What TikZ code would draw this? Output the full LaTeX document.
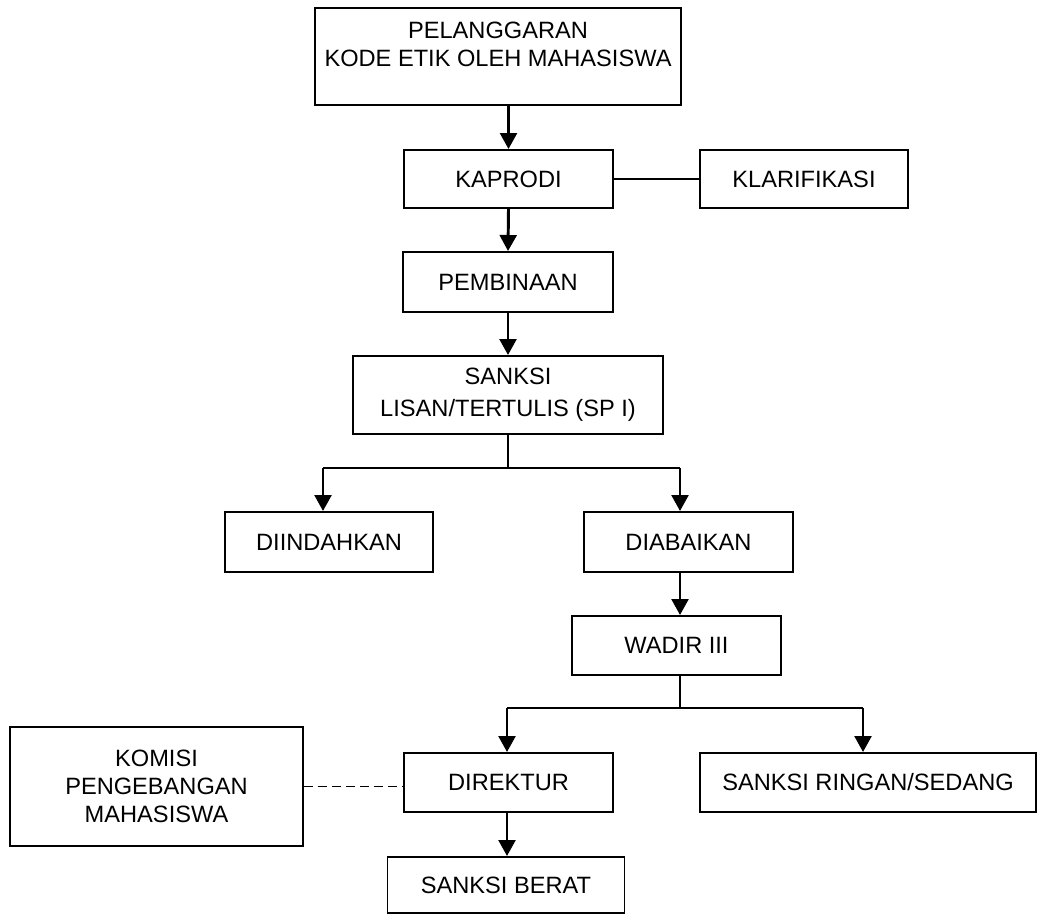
\documentclass[tikz,border=0pt]{standalone}
\usepackage{fontspec}
\setmainfont{Liberation Sans}
\usepackage{tikz}
\usetikzlibrary{calc}
\usetikzlibrary{arrows.meta}
\tikzset{
  box/.style={draw, line width=1.4pt, align=center, inner sep=0pt,
    font=\fontsize{16.8}{20}\selectfont},
  link/.style={line width=1.2pt},
  arrow/.style={line width=2.1pt, -{Triangle[width=0.42cm,length=0.4cm]}},
  dashlink/.style={line width=1.3pt, dash pattern=on 0.22cm off 0.13cm}
}
\newcommand{\flowbox}[6]{\node[box, minimum width=#4*0.025cm, minimum height=#5*0.025cm] (#1) at ( #2 , #3 ) {#6};}

\begin{document}
\begin{tikzpicture}[x=0.025cm, y=-0.025cm]
\useasboundingbox (0,0) rectangle (1038,915);
% top of the flow
\node[box, minimum width=366*0.025cm, minimum height=97*0.025cm, text depth=0.6cm] (pel) at (498,56.5) {PELANGGARAN\\KODE ETIK OLEH MAHASISWA};
\flowbox{kap}{508.5}{179}{209}{58}{KAPRODI}
\flowbox{kla}{804}{179}{208}{58}{KLARIFIKASI}
\flowbox{pem}{508}{282}{210}{60}{PEMBINAAN}
\flowbox{san}{508}{395}{310}{78}{SANKSI\\[2.8pt]LISAN/TERTULIS (SP I)}
% first branch
\flowbox{dii}{329}{542}{208}{60}{DIINDAHKAN}
\flowbox{dia}{688.5}{542}{209}{60}{DIABAIKAN}
\flowbox{wad}{676.5}{645.5}{209}{59}{WADIR III}
% second branch
\flowbox{kom}{156.5}{786.5}{293}{119}{KOMISI\\PENGEBANGAN\\MAHASISWA}
\flowbox{dir}{508.5}{782.5}{209}{59}{DIREKTUR}
\flowbox{rin}{868}{782.5}{336}{59}{SANKSI RINGAN/SEDANG}
\flowbox{ber}{506}{885}{237}{56}{SANKSI BERAT}
% split points
\coordinate (s0) at (508,468);
\coordinate (s1) at (323,468);
\coordinate (s2) at (680,468);
\coordinate (w0) at (680,708);
\coordinate (w1) at (507,708);
\coordinate (w2) at (863,708);
% connectors
\draw[arrow] (kap.north |- pel.south) -- (kap.north);
\draw[link] (kap.east) -- (kla.west);
\draw[arrow] (kap.south) -- (pem.north);
\draw[arrow] (pem.south) -- (san.north);
\draw[link] (san.south) -- (s0);
\draw[link] (s1) -- (s2);
\draw[arrow] (s1) -- (s1 |- dii.north);
\draw[arrow] (s2) -- (s2 |- dia.north);
\draw[arrow] (s2 |- dia.south) -- (s2 |- wad.north);
\draw[link] (w0 |- wad.south) -- (w0);
\draw[link] (w1) -- (w2);
\draw[arrow] (w1) -- (w1 |- dir.north);
\draw[arrow] (w2) -- (w2 |- rin.north);
\draw[arrow] (w1 |- dir.south) -- (w1 |- ber.north);
\draw[dashlink] (kom.east) -- (kom.east -| dir.west);
\end{tikzpicture}
\end{document}
